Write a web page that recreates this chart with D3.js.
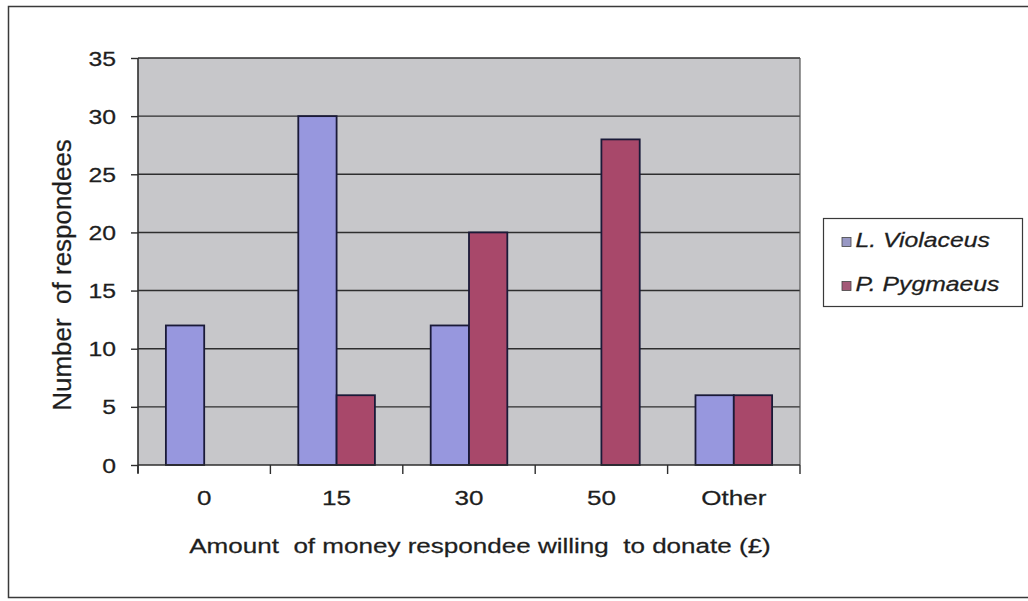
<!DOCTYPE html>
<html>
<head>
<meta charset="utf-8">
<script src="https://cdn.jsdelivr.net/npm/d3@7"></script>
<style>
  html, body { margin: 0; padding: 0; background: #fff; }
  svg { display: block; }
  text { font-family: "Liberation Sans", Arial, sans-serif; fill: #1e1e1e; stroke: #1e1e1e; stroke-width: 0.25px; }
</style>
</head>
<body>
<svg id="chart" width="1028" height="601"></svg>
<script>
// Donation survey: number of respondees per amount, by species
const categories = ["0", "15", "30", "50", "Other"];
const seriesNames = ["L. Violaceus", "P. Pygmaeus"];
const violaceus = [12, 30, 12, 0, 6];
const pygmaeus = [0, 6, 20, 28, 6];
const yTicks = [0, 5, 10, 15, 20, 25, 30, 35];
const xTitle = "Amount  of money respondee willing  to donate (£)";
const yTitle = "Number  of respondees";

const seriesValues = [violaceus, pygmaeus];
const colors = ["#9797de", "#a8486a"];
const swatchColors = ["#9898c4", "#a45a78"];

const svg = d3.select("#chart");
const plot = { left: 138, right: 800, top: 58, bottom: 465 };
const stretch = 1.27; // horizontal widening of the lettering

// outer frame
svg.append("rect")
  .attr("x", 8.5).attr("y", 6.5).attr("width", 1040).attr("height", 591)
  .attr("fill", "none").attr("stroke", "#3a3a3a").attr("stroke-width", 1.5);

const x0 = d3.scaleBand().domain(categories).range([plot.left, plot.right]).padding(0);
const x1 = d3.scaleBand().domain(seriesNames).range([0, x0.bandwidth()])
  .paddingInner(0).paddingOuter(0.728);
const y = d3.scaleLinear().domain([0, 35]).range([plot.bottom, plot.top]);

// plot background
svg.append("rect")
  .attr("x", plot.left).attr("y", plot.top)
  .attr("width", plot.right - plot.left).attr("height", plot.bottom - plot.top)
  .attr("fill", "#c7c7ca");

// horizontal gridlines
svg.append("g")
  .selectAll("line").data(yTicks.filter(d => d > 0)).join("line")
  .attr("x1", plot.left).attr("x2", plot.right)
  .attr("y1", d => y(d)).attr("y2", d => y(d))
  .attr("stroke", "#2e2e2e").attr("stroke-width", 1.4);

// right edge of plot area
svg.append("line")
  .attr("x1", plot.right).attr("x2", plot.right)
  .attr("y1", plot.top).attr("y2", plot.bottom)
  .attr("stroke", "#555").attr("stroke-width", 1.2);

// bars
const rows = categories.map((c, i) => ({ cat: c, vals: seriesValues.map((s, j) => ({ name: seriesNames[j], v: s[i], j })) }));
svg.append("g")
  .selectAll("g").data(rows).join("g")
  .attr("transform", d => `translate(${x0(d.cat)},0)`)
  .selectAll("rect").data(d => d.vals.filter(e => e.v > 0)).join("rect")
  .attr("x", d => x1(d.name))
  .attr("y", d => y(d.v))
  .attr("width", x1.bandwidth())
  .attr("height", d => y(0) - y(d.v))
  .attr("fill", d => colors[d.j])
  .attr("stroke", "#1a1a38").attr("stroke-width", 1.8);

// y axis
const yAxis = svg.append("g")
  .attr("transform", `translate(${plot.left},0)`)
  .call(d3.axisLeft(y).tickValues(yTicks).tickSize(7).tickPadding(0).tickFormat(d3.format("d")));
yAxis.select(".domain").attr("stroke", "#2e2e2e").attr("stroke-width", 1.6)
  .attr("d", `M0,${plot.top}V${plot.bottom + 8}`);
yAxis.selectAll(".tick line").attr("stroke", "#2e2e2e").attr("stroke-width", 1.4);
yAxis.selectAll(".tick text").remove();
yAxis.selectAll(".tick").append("g")
  .attr("transform", `translate(-22,7) scale(${stretch},1)`)
  .append("text")
  .attr("text-anchor", "end")
  .style("font-size", "19.5px")
  .text(d => d);

// x axis
const xAxis = svg.append("g")
  .attr("transform", `translate(0,${plot.bottom})`)
  .call(d3.axisBottom(x0).tickSize(0).tickFormat(d => d));
xAxis.select(".domain").attr("stroke", "#2e2e2e").attr("stroke-width", 1.6)
  .attr("d", `M${plot.left},0H${plot.right}`);
xAxis.selectAll(".tick text").remove();
xAxis.selectAll(".tick").append("g")
  .attr("transform", `translate(0,40) scale(${stretch},1)`)
  .append("text")
  .attr("text-anchor", "middle")
  .style("font-size", "20.5px")
  .text(d => d);
// separators between categories
xAxis.append("g").selectAll("line")
  .data(categories.map(c => x0(c)).concat([plot.right]))
  .join("line")
  .attr("x1", d => d).attr("x2", d => d)
  .attr("y1", 0).attr("y2", 9)
  .attr("stroke", "#2e2e2e").attr("stroke-width", 1.4);

// axis titles
svg.append("g")
  .attr("transform", `translate(${(plot.left + plot.right) / 2 + 11},553) scale(${stretch},1)`)
  .append("text")
  .attr("text-anchor", "middle")
  .style("font-size", "20.5px")
  .attr("xml:space", "preserve")
  .text(xTitle);

svg.append("g")
  .attr("transform", `translate(71,275) rotate(-90)`)
  .append("text")
  .attr("text-anchor", "middle")
  .style("font-size", "26px")
  .attr("xml:space", "preserve")
  .text(yTitle);

// legend
const legend = svg.append("g").attr("transform", "translate(823.5,218.5)");
legend.append("rect")
  .attr("width", 199).attr("height", 88)
  .attr("fill", "#fff").attr("stroke", "#3a3a3a").attr("stroke-width", 1.2);
const item = legend.selectAll("g.item").data(seriesNames).join("g")
  .attr("class", "item")
  .attr("transform", (d, i) => `translate(0,${28.5 + i * 44})`);
item.append("rect")
  .attr("x", 18.5).attr("y", -9.5).attr("width", 9).attr("height", 9)
  .attr("fill", (d, i) => swatchColors[i]).attr("stroke", "#444").attr("stroke-width", 0.8);
item.append("g")
  .attr("transform", `translate(32,0) scale(${stretch},1)`)
  .append("text")
  .style("font-size", "19.5px")
  .style("font-style", "italic")
  .text(d => d);
</script>
</body>
</html>
